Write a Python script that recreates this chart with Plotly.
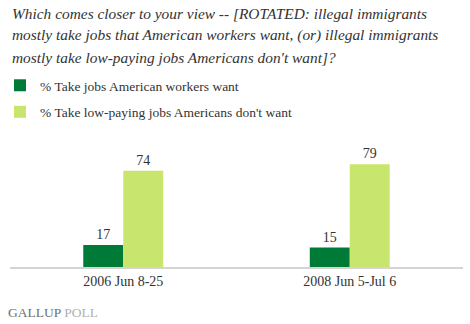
import plotly.graph_objects as go

categories = ["2006 Jun 8-25", "2008 Jun 5-Jul 6"]
series_names = ["% Take jobs American workers want", "% Take low-paying jobs Americans don't want"]
want_values = [17, 15]
dont_want_values = [74, 79]
colors = ["#007A37", "#C8E66E"]
title_lines = [
    "Which comes closer to your view -- [ROTATED: illegal immigrants",
    "mostly take jobs that American workers want, (or) illegal immigrants",
    "mostly take low-paying jobs Americans don't want]?",
]

SERIF = "Liberation Serif"
W, H = 470, 324
M_T, M_B = 137, 57
PLOT_H = H - M_T - M_B


def py(pixel_y):
    return (H - M_B - pixel_y) / PLOT_H


fig = go.Figure()
for i, (name, vals) in enumerate(zip(series_names, [want_values, dont_want_values])):
    fig.add_trace(go.Bar(
        x=categories, y=vals, name=name,
        marker=dict(color=colors[i], line=dict(width=0)),
        text=[str(v) for v in vals], textposition="outside",
        textfont=dict(family=SERIF, size=14, color="#333333"),
        cliponaxis=False, legendgroup=f"g{i}",
    ))

annotations = []
for k, line in enumerate(title_lines):
    annotations.append(dict(
        text=f"<i>{line}</i>", xref="paper", yref="paper",
        x=0, xanchor="left", y=py(13 + 22 * k), yanchor="middle",
        showarrow=False, font=dict(family=SERIF, size=15.4, color="#333333"),
    ))
annotations.append(dict(
    text="<span style='color:#707070'>GALLUP</span> <span style='color:#b0b0b0'>POLL</span>",
    xref="paper", yref="paper", x=-0.008, xanchor="left", y=py(312), yanchor="middle",
    showarrow=False, font=dict(family=SERIF, size=13.5),
))

fig.update_layout(
    width=W, height=H,
    margin=dict(l=10, r=7, t=M_T, b=M_B),
    paper_bgcolor="white", plot_bgcolor="white",
    barmode="group", bargap=0.647, bargroupgap=0,
    showlegend=True,
    legend=dict(
        x=-0.03, xanchor="left", yref="container", y=1 - 70 / H, yanchor="top",
        font=dict(family=SERIF, size=13.5, color="#333333"),
        tracegroupgap=6, itemwidth=30, bgcolor="rgba(0,0,0,0)",
    ),
    xaxis=dict(
        showline=True, linecolor="#d4d4d4", linewidth=2, ticks="",
        tickfont=dict(family=SERIF, size=14, color="#333333"),
        showgrid=False, zeroline=False,
    ),
    yaxis=dict(range=[0, 100], visible=False, showgrid=False, zeroline=False),
    annotations=annotations,
)

fig.write_html("out.html")
